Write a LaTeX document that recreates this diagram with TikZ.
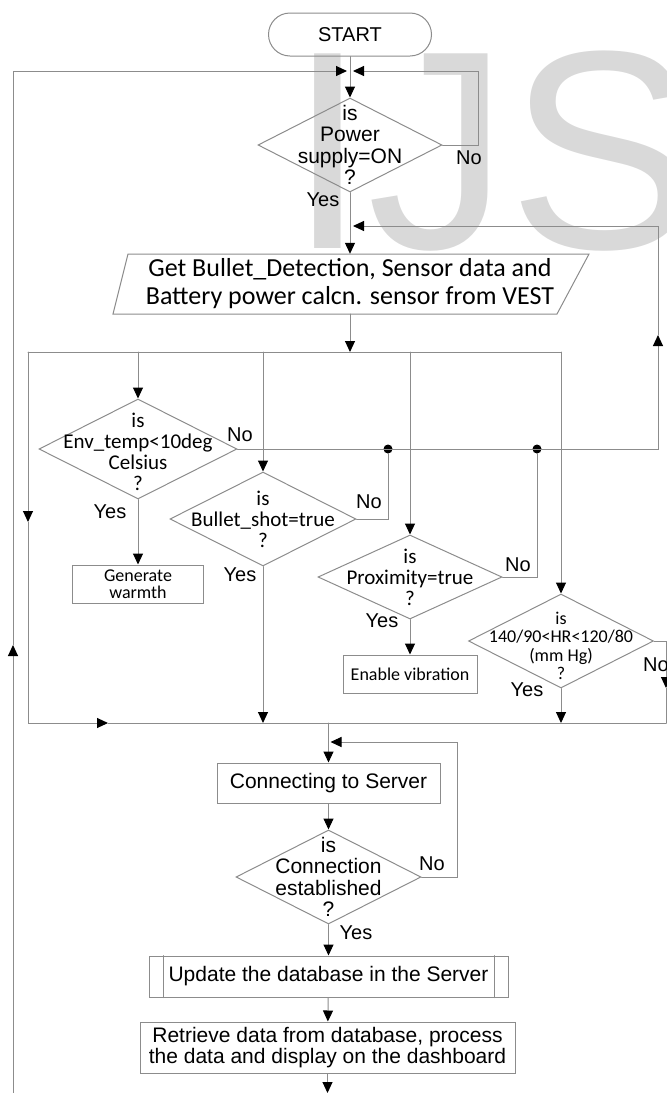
\documentclass[tikz,border=0pt]{standalone}
\usepackage{fontspec}
\setmainfont{Liberation Sans}
\newfontfamily\calfont{Carlito}
\usetikzlibrary{arrows.meta,shapes.geometric}

\begin{document}
\begin{tikzpicture}[x=1pt,y=-1pt,line cap=round,
  >={Triangle[length=11pt,width=10pt,color=black]},
  wire/.style={draw=black!45,line width=1pt},
  flow/.style={wire,->},
  decision/.style={diamond,wire,inner sep=0pt,minimum width=185pt,minimum height=94pt},
  procbox/.style={rectangle,wire,inner sep=0pt,align=center},
  arialtxt/.style={font=\fontsize{21}{21.5}\selectfont,align=center,inner sep=0pt},
  caltxt/.style={font=\calfont\fontsize{21}{21}\selectfont,align=center,inner sep=0pt},
  yn/.style={font=\fontsize{20}{20}\selectfont,inner sep=0pt},
  jdot/.style={circle,fill=black,inner sep=0pt,minimum size=9pt}]
\useasboundingbox (0,0) rectangle (667,1093);

% watermark
\node[font=\fontsize{283}{283}\selectfont,text=black!15,inner sep=0pt,anchor=base west] (ijs) at (288.5,248) {IJS};

% shapes
\node[procbox,rounded corners=21.5pt,minimum width=163pt,minimum height=43pt,font=\fontsize{20}{20}\selectfont] (start) at (350,34.5) {START};
\node[decision,minimum width=184pt,label={[arialtxt,name=powtxt]center:is\\Power\\supply=ON\\?}] (pow) at (350,145) {};
\node[caltxt,font=\calfont\fontsize{26}{28}\selectfont,minimum height=60pt] (get) at (350,284) {Get Bullet\_Detection, Sensor data and\\Battery power calcn. sensor from VEST};
\draw[wire] (128,254) -- (589,254) -- (557,314) -- (113,314) -- cycle;

\node[decision,minimum width=198pt,minimum height=100pt,label={[caltxt,yshift=-3pt,name=envtxt]center:is\\Env\_temp<10deg\\Celsius\\?}] (env) at (138,449) {};
\node[decision,minimum width=186pt,label={[caltxt,name=bultxt]center:is\\Bullet\_shot=true\\?}] (bul) at (263,519) {};
\node[decision,minimum width=184pt,minimum height=84pt,label={[caltxt,name=proxtxt]center:is\\Proximity=true\\?}] (prox) at (410,577) {};
\node[decision,label={[caltxt,font=\calfont\fontsize{18}{18.5}\selectfont,yshift=-5pt,name=hrtxt]center:is\\140/90<HR<120/80\\(mm Hg)\\?}] (hr) at (561,641) {};

\node[procbox,font=\calfont\fontsize{18}{17}\selectfont,minimum width=131pt,minimum height=38pt] (warm) at (138,584) {Generate\\warmth};
\node[procbox,font=\calfont\fontsize{18}{18}\selectfont,minimum width=134pt,minimum height=38pt] (vib) at (410,674) {Enable vibration};

\node[procbox,arialtxt,minimum width=223pt,minimum height=40pt] (conn) at (328.5,783) {Connecting to Server};
\node[decision,label={[arialtxt,name=cesttxt]center:is\\Connection\\established\\?}] (cest) at (328.5,877) {};
\node[procbox,arialtxt,minimum width=359pt,minimum height=41pt] (upd) at (328.5,976.5) {Update the database in the Server};
\draw[wire] ([xshift=15pt]upd.north west) -- ([xshift=15pt]upd.south west);
\draw[wire] ([xshift=-14pt]upd.north east) -- ([xshift=-14pt]upd.south east);
\node[procbox,arialtxt,font=\fontsize{21}{20.5}\selectfont,minimum width=375pt,minimum height=51pt] (ret) at (327.5,1047.5) {Retrieve data from database, process\\the data and display on the dashboard};

% junctions
\coordinate (jtop) at (350,71);
\coordinate (jget) at (350,226);
\coordinate (jbar) at (350,352);
\coordinate (jmerge) at (328.5,723);
\coordinate (jconn) at (328.5,742);
\coordinate (lbot) at (13,1093);
\coordinate (lup) at (13,645);
\coordinate (rup) at (658,335);
\coordinate (bleft) at (28,352);
\coordinate (bdown) at (28,522);
\coordinate (mright) at (108,723);
\coordinate (hrdown) at (666,688);
\coordinate (botend) at (327.5,1093);
\node[jdot] (dA) at (388,449) {};
\node[jdot] (dB) at (537,449) {};

% connectors
\draw[flow] (start) -- (pow);
\draw[flow] (pow.east) -- (478,145) -- (478,71) -- ([xshift=3pt]jtop);
\draw[flow] (lbot) -- (lup);
\draw[flow] (lup) -- (13,71) -- ([xshift=-3pt]jtop);
\draw[flow] (pow) -- (get);
\draw[flow] (env.east) -- (env.east -| rup) -- (rup);
\draw[flow] (rup) -- (rup |- jget) -- ([xshift=3pt]jget);
\draw[flow] (get) -- (jbar);
\draw[wire] (bleft) -- (hr.north |- jbar);
\draw[flow] (env.north |- jbar) -- (env);
\draw[flow] (bul.north |- jbar) -- (bul);
\draw[flow] (prox.north |- jbar) -- (prox);
\draw[flow] (hr.north |- jbar) -- (hr);
\draw[flow] (bleft) -- (bdown);
\draw[flow] (bdown) -- (bdown |- mright) -- (mright);
\draw[wire] (mright) -- (hrdown |- mright);
\draw[flow] (env) -- (warm);
\draw[wire] (bul.east) -- (bul.east -| dA) -- (dA);
\draw[flow] (bul) -- (bul |- jmerge);
\draw[wire] (prox.east) -- (prox.east -| dB) -- (dB);
\draw[flow] (prox) -- (vib);
\draw[flow] (hr) -- (hr |- jmerge);
\draw[flow] (hr.east) -- (hr.east -| hrdown) -- (hrdown);
\draw[wire] (hrdown) -- (hrdown |- jmerge);
\draw[flow] (jmerge) -- (conn);
\draw[flow] (conn) -- (cest);
\draw[flow] (cest.east) -- (457,877) -- (457,742) -- ([xshift=2pt]jconn);
\draw[flow] (cest) -- (upd);
\draw[flow] (upd) -- (ret);
\draw[flow] (ret) -- (botend);

% yes / no
\node[yn] (noPow) at (469,158) {No};
\node[yn] (yesPow) at (323,200) {Yes};
\node[yn] (noEnv) at (240,435) {No};
\node[yn] (yesEnv) at (110,512) {Yes};
\node[yn] (noBul) at (369,502) {No};
\node[yn] (yesBul) at (240,575) {Yes};
\node[yn] (noProx) at (518,565) {No};
\node[yn] (yesProx) at (382,621) {Yes};
\node[yn] (noHr) at (656,665) {No};
\node[yn] (yesHr) at (527,690) {Yes};
\node[yn] (noCest) at (432,864) {No};
\node[yn] (yesCest) at (356,933) {Yes};
\end{tikzpicture}
\end{document}
